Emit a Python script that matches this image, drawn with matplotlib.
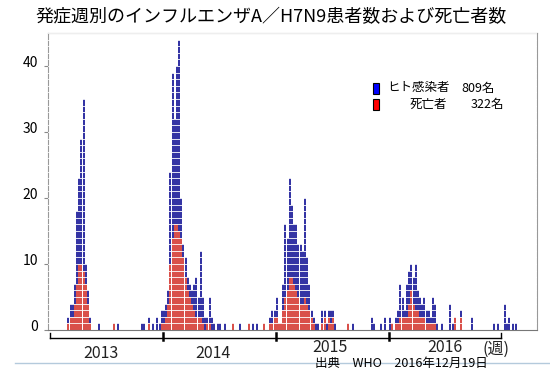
import numpy as np
import matplotlib
matplotlib.use('Agg')
import matplotlib.pyplot as plt
from matplotlib.transforms import blended_transform_factory, ScaledTranslation
from matplotlib.patches import Rectangle
from matplotlib.lines import Line2D

plt.rcParams['font.family'] = ['Noto Sans CJK JP', 'DejaVu Sans']

# weekly counts, week 1 of 2013 onwards
infected_2013 = [0, 0, 0, 0, 0, 0, 0, 0, 2, 4, 4, 7, 18,
                 23, 29, 35, 10, 6, 2, 0, 0, 0, 1, 0, 0, 0,
                 0, 0, 0, 1, 0, 1, 0, 0, 0, 0, 0, 0, 0,
                 0, 0, 0, 1, 1, 0, 2, 0, 1, 0, 2, 1, 3]
deaths_2013 = [0, 0, 0, 0, 0, 0, 0, 0, 1, 2, 2, 4, 7,
               10, 10, 9, 7, 4, 1, 0, 0, 0, 0, 0, 0, 0,
               0, 0, 0, 1, 0, 0, 0, 0, 0, 0, 0, 0, 0,
               0, 0, 0, 0, 0, 0, 1, 0, 0, 0, 0, 0, 1]

infected_2014 = [3, 4, 6, 24, 39, 32, 40, 44, 20, 13, 11, 8, 7,
                 6, 7, 8, 5, 12, 5, 2, 2, 5, 2, 1, 0, 1,
                 1, 0, 1, 0, 0, 0, 1, 0, 0, 1, 0, 0, 0,
                 1, 0, 1, 0, 1, 0, 0, 1, 0, 0, 2, 3, 3]
deaths_2014 = [1, 2, 4, 10, 14, 16, 16, 15, 14, 11, 8, 6, 5,
               4, 3, 2, 2, 2, 1, 0, 1, 1, 0, 0, 0, 0,
               0, 0, 0, 0, 0, 0, 1, 0, 0, 0, 0, 0, 0,
               1, 0, 0, 0, 0, 0, 0, 1, 0, 0, 1, 1, 2]

infected_2015 = [5, 1, 1, 7, 16, 14, 23, 19, 16, 16, 13, 13, 12,
                 20, 11, 7, 3, 2, 1, 1, 0, 3, 3, 1, 3, 3,
                 3, 1, 0, 0, 0, 0, 0, 1, 0, 1, 0, 0, 0,
                 0, 0, 0, 0, 0, 2, 1, 0, 0, 1, 0, 2, 0]
deaths_2015 = [2, 1, 1, 3, 5, 6, 8, 8, 7, 6, 5, 4, 4,
               5, 4, 3, 2, 1, 0, 0, 0, 1, 2, 0, 2, 1,
               2, 0, 0, 0, 0, 0, 0, 1, 0, 0, 0, 0, 0,
               0, 0, 0, 0, 0, 0, 0, 0, 0, 0, 0, 0, 0]

infected_2016 = [2, 1, 0, 2, 3, 7, 5, 3, 7, 9, 10, 8, 10,
                 6, 5, 4, 5, 3, 3, 2, 5, 4, 1, 0, 1, 0,
                 0, 0, 4, 1, 2, 0, 0, 3, 0, 0, 0, 0, 2,
                 0, 0, 0, 0, 0, 0, 0, 0, 0, 1, 0, 1, 0,
                 0, 4, 1, 2, 0, 1, 1]
deaths_2016 = [0, 1, 0, 1, 1, 2, 2, 2, 2, 4, 6, 4, 3,
               3, 2, 2, 2, 1, 1, 1, 1, 1, 0, 0, 0, 0,
               0, 0, 0, 0, 2, 0, 0, 2, 0, 0, 0, 0, 0,
               0, 0, 0, 0, 0, 0, 0, 0, 0, 0, 0, 0, 0,
               0, 0, 0, 0, 0, 0, 0]

years = ['2013', '2014', '2015', '2016']
year_starts = [0, 52, 104, 156, 208]
yticks = [0, 10, 20, 30, 40]

title = '発症週別のインフルエンザA／H7N9患者数および死亡者数'
legend_names = ['ヒト感染者', '死亡者']
legend_totals = ['809名', '322名']
source = '出典　WHO　2016年12月19日'

infected = np.array(infected_2013 + infected_2014 + infected_2015 + infected_2016)
deaths = np.array(deaths_2013 + deaths_2014 + deaths_2015 + deaths_2016)
weeks = np.arange(len(infected))

W, H = 550, 378
fig = plt.figure(figsize=(5.5, 3.78), dpi=100)
ax = fig.add_axes([48 / W, 1 - 330 / H, (537 - 48) / W, (330 - 33) / H])

m = infected > 0
ax.bar(weeks[m] + 0.5, infected[m], width=0.92, color='#3434a4', linewidth=0, zorder=2)
m = deaths > 0
ax.bar(weeks[m] + 0.5, deaths[m], width=0.92, color='#d9504a', linewidth=0, zorder=2.5)
# white gaps that split the bars into little boxes
for k in range(1, 46):
    ax.axhline(k, color='white', lw=0.6, zorder=3)

ax.set_xlim(-0.92, 224.4)
ax.set_ylim(0, 45)
ax.set_xticks([])
ax.set_yticks(yticks)
ax.tick_params(axis='y', length=3, color='#888888', labelsize=10, pad=4)
for lbl in ax.get_yticklabels():
    lbl.set_transform(lbl.get_transform() + ScaledTranslation(0, 3 / 72, fig.dpi_scale_trans))
for s in ['left', 'top', 'right']:
    ax.spines[s].set_color('#999999')
ax.spines['bottom'].set_color('#777777')

# year brackets under the axis
tr = blended_transform_factory(ax.transData, ax.transAxes)
yb = -8 / 297
ax.plot([year_starts[0], year_starts[-1]], [yb, yb], color='black', lw=1, transform=tr, clip_on=False)
for i, x in enumerate(year_starts):
    inner = 0 < i < len(year_starts) - 1
    ax.plot([x, x], [yb - (2 / 297 if inner else 0), -3 / 297], color='black',
            lw=1.8 if inner else 1, transform=tr, clip_on=False)
label_x = [23.5, 75.1, 129, 182]
label_y = [-23 / 297, -23 / 297, -18 / 297, -18 / 297]
for x, y, t in zip(label_x, label_y, years):
    ax.text(x, y, t, transform=tr, ha='center', va='center', fontsize=11.5, color='#222222')
fig.text(496 / W, 1 - 349 / H, '(週)', ha='center', va='center', fontsize=11.5, color='#222222')

fig.add_artist(Line2D([15 / W, 1], [1 - 363 / H] * 2, color='#b4cadc', lw=1))
fig.text(401 / W, 1 - 363 / H, source, ha='center', va='center', fontsize=9, color='black')

fig.text(271 / W, 1 - 17 / H, title, ha='center', va='center', fontsize=13)

# hand-made legend
for i, (c, name, tot) in enumerate(zip(['#0000ff', '#ff0000'], legend_names, legend_totals)):
    yc = 88 + i * 16
    fig.add_artist(Rectangle((373 / W, 1 - (yc + 5.5) / H), 5.5 / W, 11 / H,
                             facecolor=c, edgecolor='black', lw=0.8, transform=fig.transFigure))
    fig.text((450 if i == 0 else 447) / W, 1 - yc / H, name, ha='right', va='center', fontsize=9)
    fig.text((495 if i == 0 else 504) / W, 1 - yc / H, tot, ha='right', va='center', fontsize=9)

fig.savefig('out.png', dpi=100)
